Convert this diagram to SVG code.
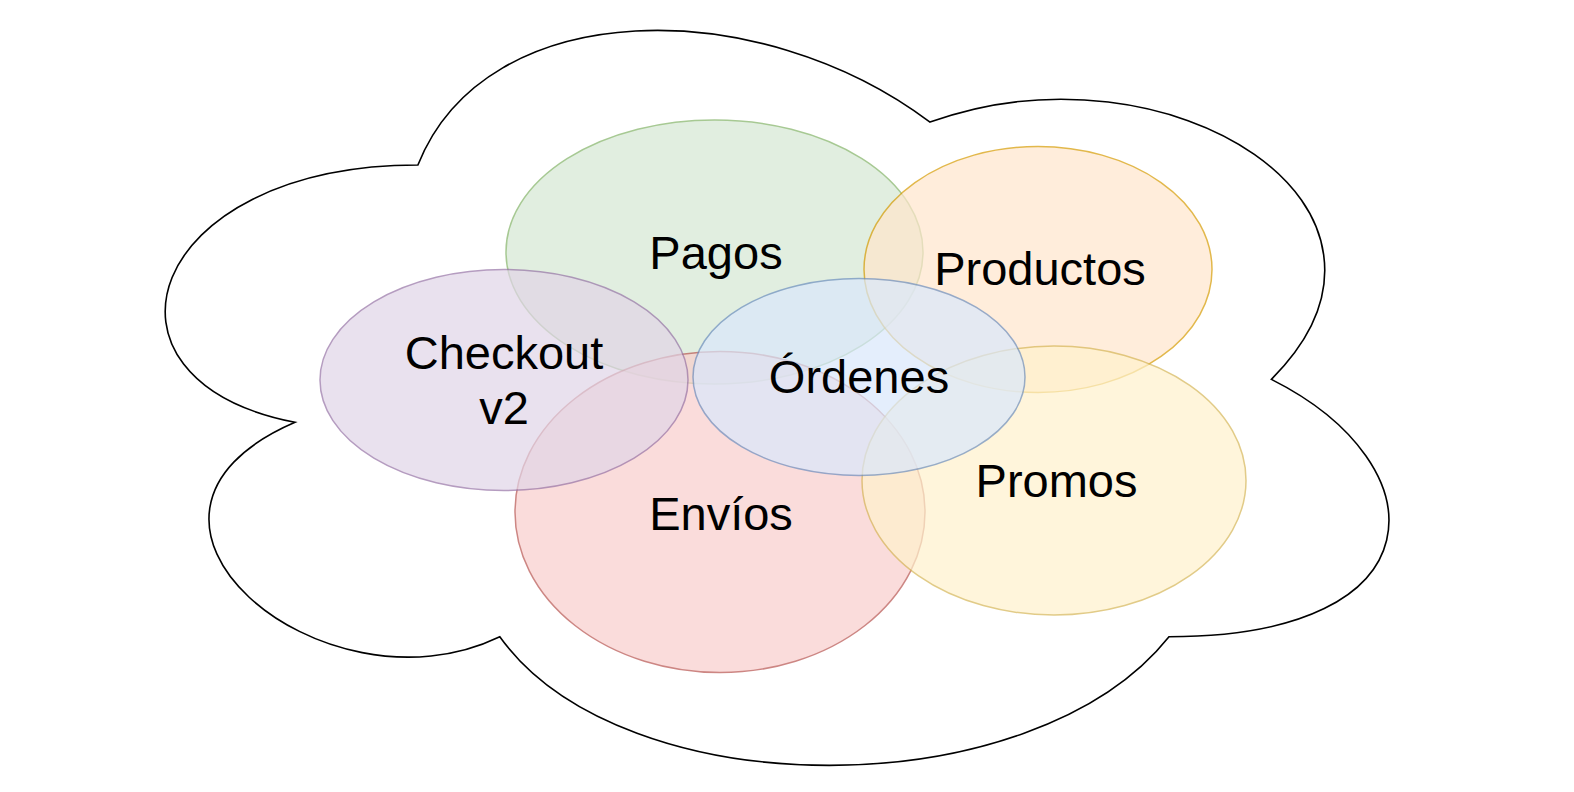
<svg xmlns="http://www.w3.org/2000/svg" width="1574" height="792" viewBox="0 0 1574 792">
<style>
.e{opacity:0.7;stroke-width:1.5}
.t{font-family:"Liberation Sans",Arial,Helvetica,sans-serif;font-size:47px;fill:#000;text-anchor:middle}
</style>
<rect width="1574" height="792" fill="#fff"/>
<g id="cloud">
<path d="M417.9,165 C144.8,165 76.5,379.4 295,422.3 C76.5,516.6 322.3,722.4 499.8,636.7 C622.7,808.2 1032.4,808.2 1169,636.7 C1442.1,636.7 1442.1,465.2 1271.4,379.4 C1442.1,207.9 1169,36.4 930,122.1 C759.3,-6.5 486.2,-6.5 417.9,165 Z" fill="#fff" stroke="#000" stroke-width="1.6"/>
</g>
<g id="pagos">
<ellipse class="e" cx="714.5" cy="252" rx="208.5" ry="132" fill="#d5e8d4" stroke="#82b366"/>
<text class="t" x="716" y="269">Pagos</text>
</g>
<g id="productos">
<ellipse class="e" cx="1038" cy="269.5" rx="174" ry="123" fill="#ffe6cc" stroke="#d79b00"/>
<text class="t" x="1040" y="285">Productos</text>
</g>
<g id="envios">
<ellipse class="e" cx="720" cy="512" rx="205" ry="160.5" fill="#f8cecc" stroke="#b85450"/>
<text class="t" x="721" y="530">Envíos</text>
</g>
<g id="promos">
<ellipse class="e" cx="1054" cy="480.5" rx="192" ry="134.5" fill="#fff2cc" stroke="#d6b656"/>
<text class="t" x="1056.5" y="496.5">Promos</text>
</g>
<g id="checkout">
<ellipse class="e" cx="504" cy="380" rx="184" ry="110.5" fill="#e1d5e7" stroke="#9673a6"/>
<text class="t" x="504" y="369">Checkout</text>
<text class="t" x="504" y="424">v2</text>
</g>
<g id="ordenes">
<ellipse class="e" cx="859" cy="377" rx="166" ry="98.5" fill="#dae8fc" stroke="#6c8ebf"/>
<text class="t" x="859" y="393">Órdenes</text>
</g>
<g id="connectors"></g>
</svg>
